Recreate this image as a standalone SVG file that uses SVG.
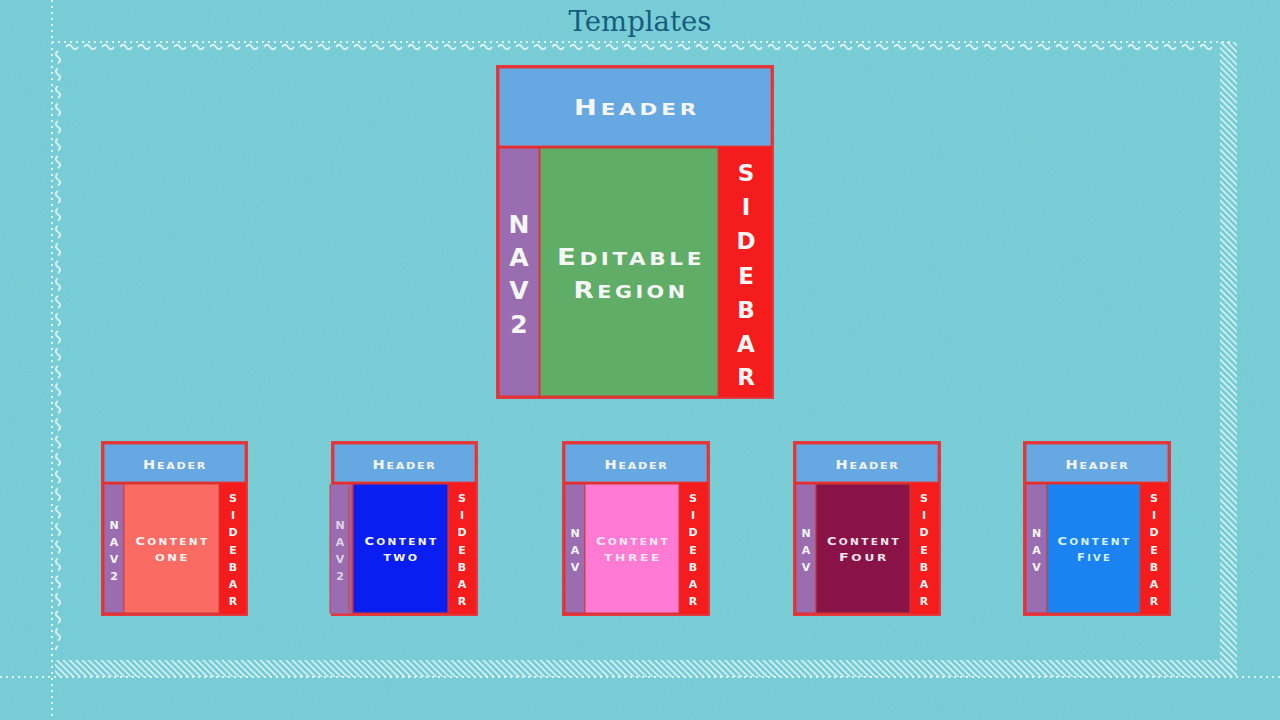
<svg xmlns="http://www.w3.org/2000/svg" width="1280" height="720" viewBox="0 0 1280 720">
<style>
.lbl{font-family:"DejaVu Sans","Liberation Sans",sans-serif;font-weight:bold;fill:#f6f6f6;text-anchor:middle}
.w1{letter-spacing:1.5px}
.w2{letter-spacing:2px}
.w3{letter-spacing:3px}
.dot{stroke:#eefafb;stroke-opacity:0.85;stroke-width:2;stroke-dasharray:2 4;fill:none}
.frame{stroke:#e23a3e;stroke-width:2}
.hdr{fill:#66a9e2;stroke:#d8474b;stroke-width:1}
.nav{fill:#9a6db0;stroke:#d8383c;stroke-width:1}
.side{fill:#f41c1c}
.cnt{stroke:#c8403c;stroke-width:1}
.title{font-family:"DejaVu Serif","Liberation Serif",serif;font-size:27.5px;fill:#175d80;text-anchor:middle}
</style>
<defs>
<filter id="noise" x="0" y="0" width="100%" height="100%">
<feTurbulence type="fractalNoise" baseFrequency="0.85" numOctaves="2" seed="3"/>
<feColorMatrix type="matrix" values="0 0 0 0 1  0 0 0 0 1  0 0 0 0 1  0.09 0 0 0 0"/>
</filter>
<pattern id="waveH" x="65" y="43" width="18" height="8" patternUnits="userSpaceOnUse">
<path d="M1,4 c2,-3 4,-3 6,0 s4,3 6,0" fill="none" stroke="#f0fbfc" stroke-opacity="0.85" stroke-width="1.8"/>
</pattern>
<pattern id="waveV" x="54" y="50" width="8" height="17.5" patternUnits="userSpaceOnUse">
<path d="M4,1 c-3,2 -3,4 0,6 s3,4 0,6" fill="none" stroke="#f0fbfc" stroke-opacity="0.85" stroke-width="1.8"/>
</pattern>
<pattern id="hatch" width="4.5" height="4.5" patternUnits="userSpaceOnUse" patternTransform="rotate(-45)">
<line x1="1" y1="0" x2="1" y2="4.5" stroke="#f0fbfc" stroke-opacity="0.8" stroke-width="1.6"/>
</pattern>
</defs>

<g id="background">
<rect width="1280" height="720" fill="#72cad3"/>
<rect width="1280" height="720" filter="url(#noise)"/>
</g>

<g id="border">
<line class="dot" x1="52" y1="0" x2="52" y2="720"/>
<line class="dot" x1="52" y1="42" x2="1234" y2="42"/>
<line class="dot" x1="0" y1="677" x2="1280" y2="677"/>
<rect x="65" y="43" width="1150" height="8" fill="url(#waveH)"/>
<rect x="54" y="50" width="8" height="600" fill="url(#waveV)"/>
<rect x="1220" y="42" width="17" height="635" fill="url(#hatch)"/>
<rect x="55" y="660" width="1165" height="17" fill="url(#hatch)"/>
</g>

<text class="title" x="640" y="31">Templates</text>

<g id="connectors"></g>

<g id="master">
<rect class="frame side" x="497" y="66" width="276" height="332"/>
<rect class="hdr" x="499" y="68" width="272" height="78"/>
<rect class="nav" x="499" y="148" width="40" height="248"/>
<rect class="cnt" x="540" y="148" width="178" height="248" fill="#5fad67"/>
<text class="lbl w3" x="637" y="115" textLength="126" lengthAdjust="spacingAndGlyphs"><tspan font-size="21">H</tspan><tspan font-size="16.5">EADER</tspan></text>
<text class="lbl w3" x="631" y="265" textLength="148" lengthAdjust="spacingAndGlyphs"><tspan font-size="23">E</tspan><tspan font-size="18">DITABLE</tspan></text>
<text class="lbl w3" x="631" y="298" textLength="115" lengthAdjust="spacingAndGlyphs"><tspan font-size="23">R</tspan><tspan font-size="18">EGION</tspan></text>
<g class="lbl" font-size="25">
<text x="519" y="233">N</text><text x="519" y="266">A</text><text x="519" y="299">V</text><text x="519" y="333">2</text>
</g>
<g class="lbl" font-size="23">
<text x="746" y="181">S</text><text x="746" y="215">I</text><text x="746" y="249">D</text><text x="746" y="284">E</text><text x="746" y="318">B</text><text x="746" y="352">A</text><text x="746" y="385">R</text>
</g>
</g>

<g id="template-one">
<rect class="frame side" x="102" y="442" width="145" height="173"/>
<rect class="hdr" x="104" y="444" width="141" height="38"/>
<rect class="nav" x="104" y="484" width="20" height="129"/>
<rect class="cnt" x="124" y="484" width="95" height="129" fill="#fa6b63"/>
<text class="lbl w1" x="175" y="469" textLength="64" lengthAdjust="spacingAndGlyphs"><tspan font-size="12.5">H</tspan><tspan font-size="9.5">EADER</tspan></text>
<text class="lbl w2" x="172.5" y="545" textLength="74" lengthAdjust="spacingAndGlyphs"><tspan font-size="11">C</tspan><tspan font-size="9">ONTENT</tspan></text>
<text class="lbl w2" x="172.5" y="561" font-size="9" textLength="35" lengthAdjust="spacingAndGlyphs">ONE</text>
<g class="lbl" font-size="11">
<text x="114" y="529">N</text><text x="114" y="546">A</text><text x="114" y="563">V</text><text x="114" y="580">2</text>
</g>
<g class="lbl" font-size="11">
<text x="233" y="502">S</text><text x="233" y="519">I</text><text x="233" y="536">D</text><text x="233" y="554">E</text><text x="233" y="571">B</text><text x="233" y="588">A</text><text x="233" y="605">R</text>
</g>
</g>

<g id="template-two">
<rect class="frame side" x="332" y="442" width="145" height="173"/>
<rect class="hdr" x="334" y="444" width="141" height="38"/>
<rect class="nav" x="330" y="484" width="22" height="130" rx="1.5" fill="#9c7cc0"/>
<line x1="349" y1="486" x2="349" y2="612" stroke="#d8383c" stroke-width="1"/>
<rect class="cnt" x="353" y="484" width="95" height="129" fill="#0b1ef2"/>
<text class="lbl w1" x="404.5" y="469" textLength="64" lengthAdjust="spacingAndGlyphs"><tspan font-size="12.5">H</tspan><tspan font-size="9.5">EADER</tspan></text>
<text class="lbl w2" x="401.5" y="545" textLength="74" lengthAdjust="spacingAndGlyphs"><tspan font-size="11">C</tspan><tspan font-size="9">ONTENT</tspan></text>
<text class="lbl w2" x="401.5" y="561" font-size="9" textLength="36" lengthAdjust="spacingAndGlyphs">TWO</text>
<g class="lbl" font-size="11" fill-opacity="0.75">
<text x="340" y="529">N</text><text x="340" y="546">A</text><text x="340" y="563">V</text><text x="340" y="580">2</text>
</g>
<g class="lbl" font-size="11">
<text x="462" y="502">S</text><text x="462" y="519">I</text><text x="462" y="536">D</text><text x="462" y="554">E</text><text x="462" y="571">B</text><text x="462" y="588">A</text><text x="462" y="605">R</text>
</g>
</g>

<g id="template-three">
<rect class="frame side" x="563" y="442" width="146" height="173"/>
<rect class="hdr" x="565" y="444" width="142" height="38"/>
<rect class="nav" x="565" y="484" width="20" height="129"/>
<rect class="cnt" x="585" y="484" width="94" height="129" fill="#ff7ad2"/>
<text class="lbl w1" x="636.5" y="469" textLength="64" lengthAdjust="spacingAndGlyphs"><tspan font-size="12.5">H</tspan><tspan font-size="9.5">EADER</tspan></text>
<text class="lbl w2" x="633" y="545" textLength="74" lengthAdjust="spacingAndGlyphs" style="fill:#fde8f6"><tspan font-size="11">C</tspan><tspan font-size="9">ONTENT</tspan></text>
<text class="lbl w2" x="633" y="561" font-size="9" textLength="58" lengthAdjust="spacingAndGlyphs" style="fill:#fde8f6">THREE</text>
<g class="lbl" font-size="11">
<text x="575" y="537">N</text><text x="575" y="554">A</text><text x="575" y="571">V</text>
</g>
<g class="lbl" font-size="11">
<text x="693" y="502">S</text><text x="693" y="519">I</text><text x="693" y="536">D</text><text x="693" y="554">E</text><text x="693" y="571">B</text><text x="693" y="588">A</text><text x="693" y="605">R</text>
</g>
</g>

<g id="template-four">
<rect class="frame side" x="794" y="442" width="146" height="173"/>
<rect class="hdr" x="796" y="444" width="142" height="38"/>
<rect class="nav" x="796" y="484" width="20" height="129"/>
<rect class="cnt" x="816" y="484" width="94" height="129" fill="#891347"/>
<text class="lbl w1" x="867.5" y="469" textLength="64" lengthAdjust="spacingAndGlyphs"><tspan font-size="12.5">H</tspan><tspan font-size="9.5">EADER</tspan></text>
<text class="lbl w2" x="864" y="545" textLength="74" lengthAdjust="spacingAndGlyphs" style="fill:#f6e6ee"><tspan font-size="11">C</tspan><tspan font-size="9">ONTENT</tspan></text>
<text class="lbl w2" x="864" y="561" textLength="50" lengthAdjust="spacingAndGlyphs" style="fill:#f6e6ee"><tspan font-size="10.5">F</tspan><tspan font-size="9">OUR</tspan></text>
<g class="lbl" font-size="11">
<text x="806" y="537">N</text><text x="806" y="554">A</text><text x="806" y="571">V</text>
</g>
<g class="lbl" font-size="11">
<text x="924" y="502">S</text><text x="924" y="519">I</text><text x="924" y="536">D</text><text x="924" y="554">E</text><text x="924" y="571">B</text><text x="924" y="588">A</text><text x="924" y="605">R</text>
</g>
</g>

<g id="template-five">
<rect class="frame side" x="1024" y="442" width="146" height="173"/>
<rect class="hdr" x="1026" y="444" width="142" height="38"/>
<rect class="nav" x="1026" y="484" width="21" height="129"/>
<rect class="cnt" x="1047" y="484" width="93" height="129" fill="#1b82f2"/>
<text class="lbl w1" x="1097.5" y="469" textLength="64" lengthAdjust="spacingAndGlyphs"><tspan font-size="12.5">H</tspan><tspan font-size="9.5">EADER</tspan></text>
<text class="lbl w2" x="1094.5" y="545" textLength="74" lengthAdjust="spacingAndGlyphs" style="fill:#d6f2ff"><tspan font-size="11">C</tspan><tspan font-size="9">ONTENT</tspan></text>
<text class="lbl w2" x="1094.5" y="561" textLength="35" lengthAdjust="spacingAndGlyphs" style="fill:#d6f2ff"><tspan font-size="10.5">F</tspan><tspan font-size="9">IVE</tspan></text>
<g class="lbl" font-size="11">
<text x="1036.5" y="537">N</text><text x="1036.5" y="554">A</text><text x="1036.5" y="571">V</text>
</g>
<g class="lbl" font-size="11">
<text x="1154" y="502">S</text><text x="1154" y="519">I</text><text x="1154" y="536">D</text><text x="1154" y="554">E</text><text x="1154" y="571">B</text><text x="1154" y="588">A</text><text x="1154" y="605">R</text>
</g>
</g>
</svg>
